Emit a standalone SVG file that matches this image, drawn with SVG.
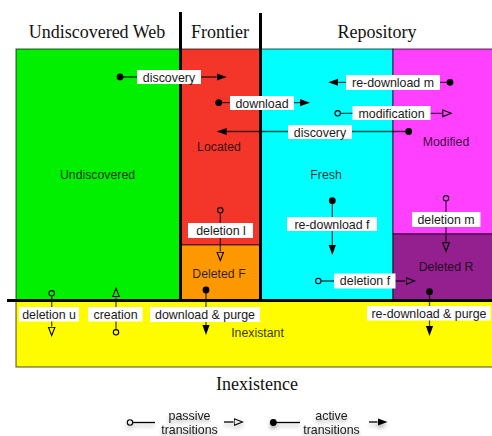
<svg xmlns="http://www.w3.org/2000/svg" width="492" height="436" viewBox="0 0 492 436">
  <style>
    .hdr { font-family: "Liberation Serif", "Times New Roman", serif; font-size: 18px; fill: #111; text-anchor: middle; }
    .state { font-family: "Liberation Sans", Arial, sans-serif; font-size: 12.3px; fill: #000; fill-opacity: 0.8; text-anchor: middle; }
    .lbl { font-family: "Liberation Sans", Arial, sans-serif; font-size: 12.4px; fill: #1a1a1a; text-anchor: middle; }
    .box { fill: #fff; }
    .edge { fill: none; stroke: #000; stroke-opacity: 0.7; stroke-width: 1.3; }
    .legend-edge { fill: none; stroke: #000; stroke-width: 1.3; }
    .region { stroke: #000; stroke-opacity: 0.7; stroke-width: 1; }
    .wall { stroke: #000; stroke-width: 3; fill: none; }
    .active { marker-start: url(#dot); marker-end: url(#arrow-active); }
    .passive { marker-start: url(#ring); marker-end: url(#arrow-passive); }
  </style>
  <defs>
    <marker id="arrow-active" markerUnits="userSpaceOnUse" viewBox="0 -5 12 10" refX="0" refY="0" markerWidth="12" markerHeight="10" orient="auto">
      <path d="M0,-3.6 L10,0 L0,3.6 Z" fill="#000"/>
    </marker>
    <marker id="arrow-passive" markerUnits="userSpaceOnUse" viewBox="0 -5 12 10" refX="0" refY="0" markerWidth="12" markerHeight="10" orient="auto">
      <path d="M0.6,-3.3 L9,0 L0.6,3.3 Z" fill="none" stroke="#000" stroke-width="1.1"/>
    </marker>
    <marker id="dot" markerUnits="userSpaceOnUse" viewBox="-5 -5 10 10" refX="0" refY="0" markerWidth="10" markerHeight="10" orient="auto">
      <circle r="3.4" fill="#000"/>
    </marker>
    <marker id="ring" markerUnits="userSpaceOnUse" viewBox="-7 -5 12 10" refX="0" refY="0" markerWidth="12" markerHeight="10" orient="auto">
      <circle cx="-3" r="2.7" fill="none" stroke="#000" stroke-width="1.1"/>
    </marker>
    <filter id="soft-shadow" x="-20%" y="-40%" width="140%" height="200%">
      <feGaussianBlur in="SourceAlpha" stdDeviation="2"/>
      <feOffset dy="3" result="blur"/>
      <feComponentTransfer><feFuncA type="linear" slope="0.35"/></feComponentTransfer>
      <feMerge><feMergeNode/><feMergeNode in="SourceGraphic"/></feMerge>
    </filter>
  </defs>

  <rect width="492" height="436" fill="#fff"/>

  <!-- Section headings -->
  <text class="hdr" x="97" y="38">Undiscovered Web</text>
  <text class="hdr" x="220" y="38">Frontier</text>
  <text class="hdr" x="377" y="38">Repository</text>
  <text class="hdr" x="257" y="390">Inexistence</text>

  <!-- States -->
  <g id="inexistant">
    <rect class="region" x="16" y="300" width="477" height="67" fill="#fffc00"/>
    <text class="state" x="257.5" y="337">Inexistant</text>
  </g>
  <g id="undiscovered">
    <rect class="region" x="16" y="49" width="165" height="251" fill="#00f000"/>
    <text class="state" x="97.5" y="179">Undiscovered</text>
  </g>
  <g id="located">
    <rect class="region" x="181" y="49" width="79" height="196" fill="#f4362a"/>
    <text class="state" x="219" y="151">Located</text>
  </g>
  <g id="deleted-f">
    <rect class="region" x="181" y="245" width="79" height="55" fill="#fd9800"/>
    <text class="state" x="219" y="277.5">Deleted F</text>
  </g>
  <g id="fresh">
    <rect class="region" x="260" y="49" width="133" height="251" fill="#00ffff"/>
    <text class="state" x="326" y="178.5">Fresh</text>
  </g>
  <g id="modified">
    <rect class="region" x="393" y="49" width="100" height="185" fill="#ff40ff"/>
    <text class="state" x="446" y="146">Modified</text>
  </g>
  <g id="deleted-r">
    <rect class="region" x="393" y="234" width="100" height="66" fill="#93208e"/>
    <text class="state" x="446" y="271">Deleted R</text>
  </g>

  <!-- Zone boundaries -->
  <g id="walls">
    <line class="wall" x1="180.5" y1="12" x2="180.5" y2="301"/>
    <line class="wall" x1="260.5" y1="13" x2="260.5" y2="301"/>
    <line class="wall" x1="7" y1="300.5" x2="492" y2="300.5"/>
  </g>

  <!-- Transitions -->
  <g id="connectors">
    <path class="edge active" d="M120,77 H216.7"/>
    <path class="edge active" d="M218.7,102.7 H300"/>
    <path class="edge active" d="M408.7,131.5 H226.7"/>
    <path class="edge active" d="M450,82.3 H338.3"/>
    <path class="edge passive" d="M340.7,113.3 H442.2"/>
    <path class="edge passive" d="M220.3,213.3 V251.5"/>
    <path class="edge active" d="M332.3,200.7 V245"/>
    <path class="edge passive" d="M446,201.3 V242.2"/>
    <path class="edge passive" d="M321.3,281 H405.5"/>
    <path class="edge active" d="M206,290 V325"/>
    <path class="edge active" d="M429.5,291.7 V326"/>
    <path class="edge passive" d="M51.7,296.3 V326.5"/>
    <path class="edge passive" d="M116,329.3 V297.2"/>

    <rect class="box" x="137" y="70" width="64" height="14"/>
    <text class="lbl" x="169" y="81.5">discovery</text>
    <rect class="box" x="230" y="96" width="64" height="14"/>
    <text class="lbl" x="262" y="107.5">download</text>
    <rect class="box" x="288" y="125" width="64" height="14"/>
    <text class="lbl" x="320" y="136.5">discovery</text>
    <rect class="box" x="346" y="75" width="94" height="15"/>
    <text class="lbl" x="393" y="86.8">re-download m</text>
    <rect class="box" x="352.5" y="106" width="78" height="14"/>
    <text class="lbl" x="391.5" y="117.5">modification</text>
    <rect class="box" x="188" y="223" width="65" height="15"/>
    <text class="lbl" x="221" y="234.8">deletion l</text>
    <rect class="box" x="287" y="217" width="90" height="14"/>
    <text class="lbl" x="332" y="228.5">re-download f</text>
    <rect class="box" x="412" y="212" width="68.5" height="15"/>
    <text class="lbl" x="446" y="223.8">deletion m</text>
    <rect class="box" x="334" y="273.5" width="61.5" height="15"/>
    <text class="lbl" x="365" y="285.3">deletion f</text>
    <rect class="box" x="19" y="307" width="60" height="14.5"/>
    <text class="lbl" x="49" y="318.6">deletion u</text>
    <rect class="box" x="88" y="307" width="54.5" height="14.5"/>
    <text class="lbl" x="115.5" y="318.6">creation</text>
    <rect class="box" x="150" y="307" width="110" height="15"/>
    <text class="lbl" x="205" y="318.8">download &amp; purge</text>
    <rect class="box" x="367" y="306" width="123.5" height="14.5"/>
    <text class="lbl" x="429" y="317.6">re-download &amp; purge</text>
  </g>

  <!-- Legend -->
  <g id="legend-passive" filter="url(#soft-shadow)">
    <path class="legend-edge" d="M133,422.5 H155" marker-start="url(#ring)"/>
    <path class="legend-edge" d="M224,422 H233.5" marker-end="url(#arrow-passive)"/>
    <text class="lbl" x="189.5" y="419.5">passive</text>
    <text class="lbl" x="189.5" y="433.5">transitions</text>
  </g>
  <g id="legend-active" filter="url(#soft-shadow)">
    <path class="legend-edge" d="M273.3,422.5 H300" marker-start="url(#dot)"/>
    <path class="legend-edge" d="M369,422 H377.5" marker-end="url(#arrow-active)"/>
    <text class="lbl" x="331.5" y="419.5">active</text>
    <text class="lbl" x="331.5" y="433.5">transitions</text>
  </g>
</svg>
